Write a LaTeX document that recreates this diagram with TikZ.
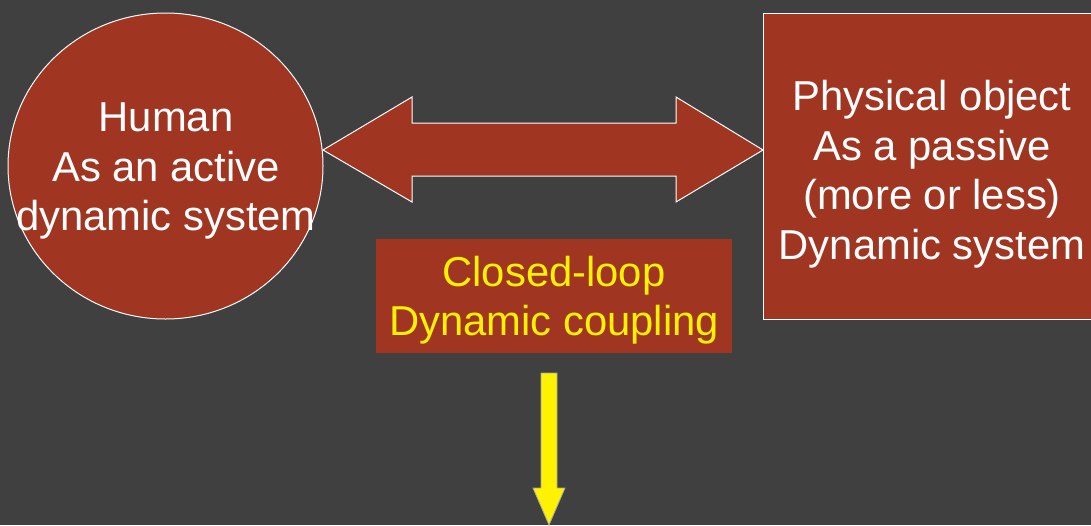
\documentclass[tikz,border=0pt]{standalone}
\usepackage{fontspec}
\setmainfont{Liberation Sans}
\usetikzlibrary{shapes.geometric}
\definecolor{bg}{HTML}{404040}
\definecolor{brick}{HTML}{A03522}
\tikzset{
  outl/.style={draw=white, line width=1pt, fill=brick},
  bigtxt/.style={text=white, align=center, inner sep=0pt, font=\fontsize{41.8}{49.5}\selectfont},
  yeltxt/.style={text=yellow, align=center, font=\fontsize{41.8}{49.5}\selectfont},
}
\begin{document}
\begin{tikzpicture}[x=1pt,y=-1pt]
\useasboundingbox (0,0) rectangle (1091,525);
\clip (0,0) rectangle (1091,525);
\fill[bg] (0,0) rectangle (1091,525);
% human circle
\node[outl, ellipse, inner sep=0pt, minimum width=315pt, minimum height=306pt] (human) at (165.5,166) {};
\node[bigtxt] (humantxt) at (166,171) {Human\\As an active\\dynamic system};
% physical object box
\node[outl, rectangle, inner sep=0pt, minimum width=338pt, minimum height=306pt, anchor=north west] (phys) at (763,13) {};
\node[bigtxt] (phystxt) at (932,174) {Physical object\\As a passive\\(more or less)\\Dynamic system};
% double block arrow
\draw[outl] (323,150) -- (412,97) -- (412,123) -- (676,123) -- (676,97) -- (763,150)
  -- (676,202) -- (676,176) -- (412,176) -- (412,202) -- cycle;
% coupling box
\node[fill=brick, inner sep=0pt, minimum width=356pt, minimum height=114pt] (coupling) at (554,296) {};
\node[yeltxt, inner sep=0pt] (couplingtxt) at (554,300) {Closed-loop\\Dynamic coupling};
% yellow arrow
\draw[fill=yellow, draw=gray!70, line width=0.8pt] (541,373) -- (557,373) -- (557,488) -- (565,488)
  -- (549,525) -- (533,488) -- (541,488) -- cycle;
\end{tikzpicture}
\end{document}
